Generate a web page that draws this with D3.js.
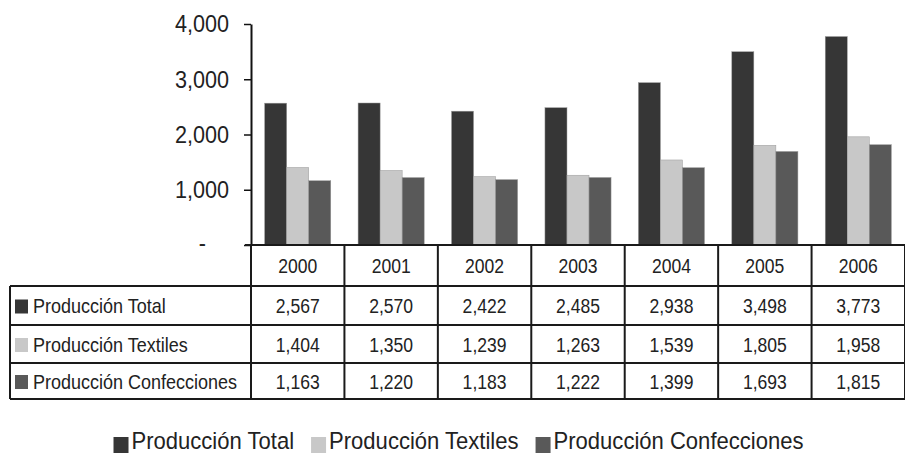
<html>
<head>
<meta charset="utf-8">
<style>
  body { margin: 0; background: #fff; }
  svg text { font-family: "Liberation Sans", Arial, sans-serif; fill: #222; }
</style>
</head>
<body>
<script src="https://d3js.org/d3.v7.min.js"></script>
<div id="chart"></div>
<script>
  // data
  const years = ["2000", "2001", "2002", "2003", "2004", "2005", "2006"];
  const seriesNames = ["Producción Total", "Producción Textiles", "Producción Confecciones"];
  const total = [2567, 2570, 2422, 2485, 2938, 3498, 3773];
  const textiles = [1404, 1350, 1239, 1263, 1539, 1805, 1958];
  const confecciones = [1163, 1220, 1183, 1222, 1399, 1693, 1815];
  const yTicks = [0, 1000, 2000, 3000, 4000];
  const colors = ["#363636", "#c8c8c8", "#595959"];

  const values = [total, textiles, confecciones];
  const width = 905, height = 455;
  const squeeze = 0.9; // the source text is a bit condensed
  const fmt = d3.format(",");

  const svg = d3.select("#chart").append("svg")
    .attr("width", width)
    .attr("height", height);

  // helper: condensed text
  function ctext(g, x, y, str, size, anchor) {
    return g.append("text")
      .attr("transform", "translate(" + x + "," + y + ") scale(" + squeeze + ",1)")
      .attr("text-anchor", anchor || "start")
      .attr("dominant-baseline", "central")
      .style("font-size", size + "px")
      .text(str);
  }

  const plotLeft = 251, plotRight = 905, plotTop = 24, base = 245;
  const tableLeft = 10;
  const rowEdges = [245, 286, 325, 363, 399];

  const x0 = d3.scaleBand().domain(years).range([plotLeft, plotRight]).padding(0);
  const x1 = d3.scaleBand().domain(seriesNames).range([0, x0.bandwidth()])
    .paddingInner(0).paddingOuter(0.62);
  const y = d3.scaleLinear().domain([0, 4000]).range([base, plotTop]);

  // bars
  years.forEach((yr, i) => {
    seriesNames.forEach((s, k) => {
      svg.append("rect")
        .attr("x", x0(yr) + x1(s))
        .attr("y", y(values[k][i]))
        .attr("width", x1.bandwidth())
        .attr("height", base - y(values[k][i]))
        .style("fill", colors[k])
        .style("stroke", "#9a9a9a")
        .style("stroke-width", 0.5);
    });
  });

  // y axis
  const yAxis = svg.append("g")
    .attr("transform", "translate(" + plotLeft + ",0)")
    .call(d3.axisLeft(y).tickValues(yTicks).tickSize(7).tickSizeOuter(0)
      .tickFormat(d => d === 0 ? "-" : fmt(d)));
  yAxis.select(".domain").style("stroke", "#111").style("stroke-width", 2);
  yAxis.selectAll(".tick line").style("stroke", "#111").style("stroke-width", 1.5);
  yAxis.selectAll(".tick text").remove();
  yTicks.forEach(t => {
    const lbl = ctext(svg, plotLeft - 22, y(t), t === 0 ? "-" : fmt(t), 24, "end");
    if (t === 0) lbl.attr("transform", "translate(" + (plotLeft - 45) + "," + (y(t) - 2) + ") scale(" + squeeze + ",1)");
  });

  // table grid
  const grid = svg.append("g").style("stroke", "#1a1a1a").style("stroke-width", 2);
  // top line of header row (baseline of bars)
  grid.append("line").attr("x1", plotLeft - 6).attr("x2", plotRight).attr("y1", base).attr("y2", base);
  rowEdges.slice(1).forEach(ry => {
    grid.append("line").attr("x1", tableLeft).attr("x2", plotRight).attr("y1", ry).attr("y2", ry);
  });
  grid.append("line").attr("x1", tableLeft).attr("x2", tableLeft)
    .attr("y1", rowEdges[1]).attr("y2", rowEdges[4]);
  years.forEach(yr => {
    grid.append("line").attr("x1", x0(yr)).attr("x2", x0(yr))
      .attr("y1", base).attr("y2", rowEdges[4]);
  });
  grid.append("line").attr("x1", plotRight).attr("x2", plotRight)
    .attr("y1", base).attr("y2", rowEdges[4]);

  // header years
  years.forEach(yr => {
    ctext(svg, x0(yr) + x0.bandwidth() / 2, (rowEdges[0] + rowEdges[1]) / 2 + 1, yr, 19.5, "middle");
  });

  // rows
  seriesNames.forEach((s, k) => {
    const cy = (rowEdges[k + 1] + rowEdges[k + 2]) / 2 + 1;
    svg.append("rect")
      .attr("x", 15).attr("y", cy - 7)
      .attr("width", 13).attr("height", 14)
      .style("fill", colors[k]);
    ctext(svg, 33, cy, s, 20, "start");
    years.forEach((yr, i) => {
      ctext(svg, x0(yr) + x0.bandwidth() / 2, cy, fmt(values[k][i]), 19.5, "middle");
    });
  });

  // legend at the bottom, laid out by measured text widths
  const legend = svg.append("g");
  let lx = 0;
  const ly = 441;
  seriesNames.forEach((s, k) => {
    legend.append("rect")
      .attr("x", lx).attr("y", ly - 4)
      .attr("width", 15).attr("height", 16)
      .style("fill", colors[k]);
    const t = ctext(legend, lx + 18, ly, s, 24.5, "start");
    lx += 18 + t.node().getComputedTextLength() * squeeze + 17;
  });
  const legendWidth = lx - 17;
  legend.attr("transform", "translate(" + ((116 + 801) / 2 - legendWidth / 2) + ",0)");
</script>
</body>
</html>
